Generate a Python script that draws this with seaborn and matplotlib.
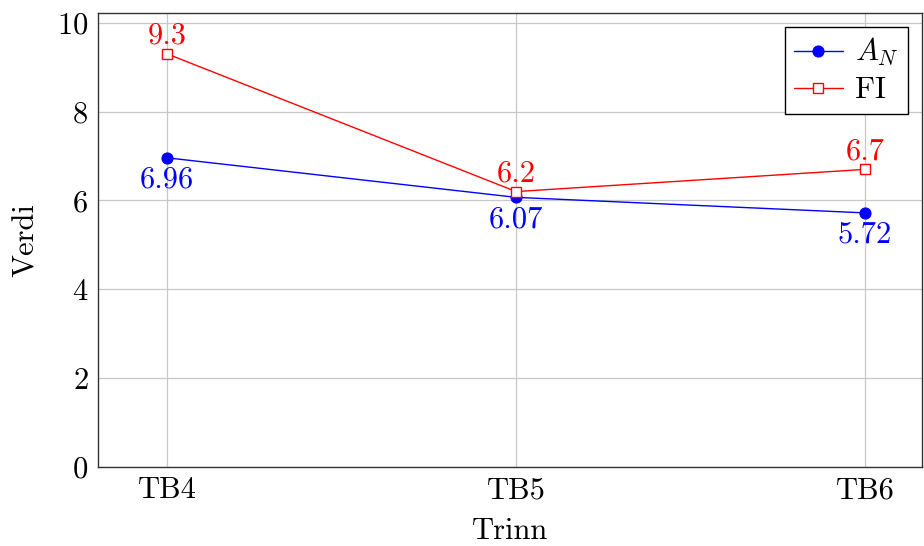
import matplotlib
matplotlib.use("Agg")
import matplotlib.pyplot as plt
import seaborn as sns
import pandas as pd

steps = ["TB4", "TB5", "TB6"]
a_n = [6.96, 6.07, 5.72]
fi = [9.3, 6.2, 6.7]
a_n_labels = ["6.96", "6.07", "5.72"]
fi_labels = ["9.3", "6.2", "6.7"]

sns.set_style("white")
plt.rcParams["font.family"] = ["cmr10", "DejaVu Serif"]
plt.rcParams["mathtext.fontset"] = "cm"
plt.rcParams["axes.formatter.use_mathtext"] = True
plt.rcParams["text.color"] = "black"
plt.rcParams["axes.labelcolor"] = "black"
plt.rcParams["xtick.color"] = "black"
plt.rcParams["ytick.color"] = "black"

fig = plt.figure(figsize=(9.24, 5.46), dpi=100)
ax = fig.add_axes([98 / 924, 1 - 467 / 546, (922 - 98) / 924, (467 - 13) / 546])

pos = list(range(len(steps)))
df_a = pd.DataFrame({"x": pos, "y": a_n})
df_f = pd.DataFrame({"x": pos, "y": fi})

sns.lineplot(data=df_a, x="x", y="y", ax=ax, color="blue", lw=1.0,
             marker="o", markersize=8, markeredgecolor="blue",
             markerfacecolor="blue", label="$A_N$")
sns.lineplot(data=df_f, x="x", y="y", ax=ax, color="red", lw=1.0,
             marker="s", markersize=7, markeredgecolor="red",
             markerfacecolor="white", markeredgewidth=1.0, label="FI")

fs = 22
for x, y, t in zip(pos, a_n, a_n_labels):
    ax.annotate(t, (x, y), xytext=(0, -6), textcoords="offset points",
                ha="center", va="top", color="blue", fontsize=fs)
for x, y, t in zip(pos, fi, fi_labels):
    ax.annotate(t, (x, y), xytext=(0, 3), textcoords="offset points",
                ha="center", va="bottom", color="red", fontsize=fs)

ax.set_xlim(-0.198, 2.163)
ax.set_ylim(0, 10.22)
ax.set_xticks(pos)
ax.set_xticklabels(steps)
ax.set_yticks([0, 2, 4, 6, 8, 10])
ax.grid(True, color="#c8c8c8", lw=0.9)
ax.set_axisbelow(True)
for s in ax.spines.values():
    s.set_color("#333333")
    s.set_linewidth(1.0)
ax.tick_params(axis="both", labelsize=fs, direction="in", length=5,
               color="#555555", pad=7)
ax.set_xlabel("Trinn", fontsize=fs, labelpad=10)
ax.set_ylabel("Verdi", fontsize=fs, labelpad=12)

leg = ax.legend(loc="upper right", fontsize=fs, frameon=True, fancybox=False,
                edgecolor="black", framealpha=1, borderpad=0.3,
                handlelength=1.6, handletextpad=0.4, labelspacing=0.28,
                borderaxespad=0, bbox_to_anchor=(0.983, 0.969))
leg.get_frame().set_linewidth(1.0)

fig.savefig("out.png", dpi=100)
